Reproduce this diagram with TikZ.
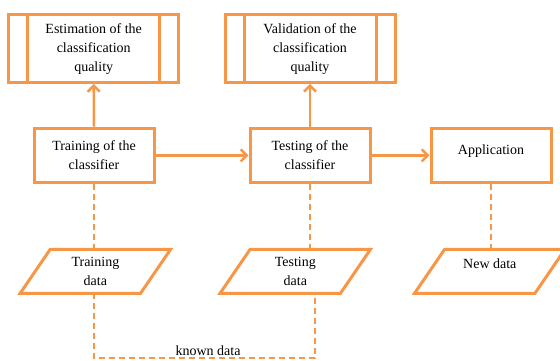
\documentclass[tikz,border=0pt]{standalone}
\usepackage{fontspec}
\setmainfont{Liberation Serif}
\usetikzlibrary{arrows.meta}
\definecolor{org}{HTML}{F79646}
\begin{document}
\begin{tikzpicture}[x=1pt,y=-1pt,
  every node/.style={font=\fontsize{14}{19}\selectfont, align=center, inner sep=0pt},
  proc/.style={draw=org, line width=3pt, minimum width=120pt, minimum height=54.5pt},
  predef/.style={draw=org, line width=3pt, minimum width=170pt, minimum height=67.5pt},
  iodata/.style={minimum width=120pt, minimum height=43.5pt},
  flow/.style={draw=org, line width=2.5pt, -{Straight Barb[length=6pt,width=12pt]}},
  dline/.style={draw=org, line width=2.5pt, dash pattern=on 6pt off 4pt}]
\useasboundingbox (0,0) rectangle (560,361);
% predefined process boxes
\node[predef] (est) at (93.7,48.7) {Estimation of the\\classification\\quality};
\node[predef] (val) at (310,48.7) {Validation of the\\classification\\quality};
\foreach \n in {est,val}{
  \draw[org, line width=3pt] ([xshift=20.5pt]\n.north west) -- ([xshift=20.5pt]\n.south west);
  \draw[org, line width=3pt] ([xshift=-20.5pt]\n.north east) -- ([xshift=-20.5pt]\n.south east);
}
% process boxes
\node[proc] (train) at (94,155.3) {Training of the\\classifier};
\node[proc] (test) at (310,155.3) {Testing of the\\classifier};
\node[proc, text depth=12pt] (app) at (491,155.3) {Application};
% data parallelograms
\node[iodata] (trdata) at (95.4,271.3) {Training\\data};
\node[iodata] (tsdata) at (295.3,271.3) {Testing\\data};
\node[iodata, text depth=16pt] (nwdata) at (489.8,271.3) {New data};
\foreach \n in {trdata,tsdata,nwdata}{
  \draw[org, line width=3pt, line join=miter]
    ([xshift=15pt]\n.north west) -- ([xshift=15pt]\n.north east)
    -- ([xshift=-15pt]\n.south east) -- ([xshift=-15pt]\n.south west) -- cycle;
}
% solid arrows
\draw[flow] (train.north) -- (est.south);
\draw[flow] (test.north) -- (test.north |- val.south);
\draw[flow] (train.east) -- (test.west);
\draw[flow] (test.east) -- (app.west);
% dashed links
\draw[dline] (train.south) -- (train.south |- trdata.north);
\draw[dline] (test.south) -- (test.south |- tsdata.north);
\draw[dline] (app.south) -- (app.south |- nwdata.north);
\coordinate (lc) at (94,358);
\coordinate (rc) at (315,358);
\draw[dline] (train.south |- trdata.south) -- (lc) -- (rc) -- (rc |- tsdata.south);
\node[anchor=base] (known) at (208,355) {known data};
\end{tikzpicture}
\end{document}
